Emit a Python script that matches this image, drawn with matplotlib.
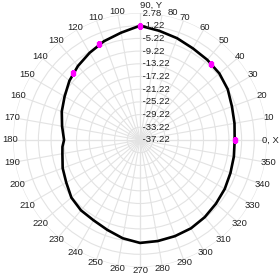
import numpy as np
import matplotlib
matplotlib.use("Agg")
import matplotlib.pyplot as plt

plt.rcParams["font.family"] = ["Liberation Sans", "DejaVu Sans"]

# Pattern (degrees, dB)
angles_deg = [0, 10, 20, 30, 40, 50, 60, 70, 80, 90, 100, 110, 120, 130, 140,
              150, 160, 170, 175, 180, 185, 190, 200, 210, 220, 230, 240, 250,
              260, 270, 280, 290, 300, 310, 320, 330, 340, 350, 360]
gain_db = [-7.4, -7.0, -6.4, -5.3, -4.6, -4.25, -3.9, -3.1, -2.3, -1.22, -2.9,
           -4.1, -5.5, -6.8, -8.2, -9.8, -11.0, -12.3, -12.9, -13.3, -12.7,
           -12.4, -11.3, -10.4, -9.0, -8.3, -8.0, -7.1, -5.8, -4.8, -4.9, -5.0,
           -5.1, -5.5, -6.0, -6.4, -6.9, -7.2, -7.4]

# Highlighted points (magenta)
marker_deg = [0, 47, 90, 113, 135]
marker_db = [-7.4, -4.4, -1.22, -4.5, -7.45]

ring_db = [2.78, -1.22, -5.22, -9.22, -13.22, -17.22, -21.22, -25.22,
           -29.22, -33.22, -37.22]
ring_labels = ["2.78", "-1.22", "-5.22", "-9.22", "-13.22", "-17.22",
               "-21.22", "-25.22", "-29.22", "-33.22", "-37.22"]
angle_ticks = list(range(0, 360, 10))

r_min, r_max = -37.22, 2.78
fs = 6.8

fig = plt.figure(figsize=(2.8, 2.8), dpi=100)
ax = fig.add_axes([13 / 280, 13 / 280, 254 / 280, 254 / 280], projection="polar")
ax.set_ylim(r_min, r_max)
ax.set_xticks(np.deg2rad(angle_ticks))
ax.set_xticklabels([])
ax.set_yticks(ring_db)
ax.set_yticklabels([])
ax.grid(True, color="#e3e3e3", linewidth=0.8)
ax.spines["polar"].set_visible(False)
ax.set_facecolor("white")

# darker main axes
for a in (0, 90, 180, 270):
    ax.plot([np.deg2rad(a)] * 2, [r_min, r_max], color="#cccccc", linewidth=0.8, zorder=1)

ax.plot(np.deg2rad(angles_deg), gain_db, color="black", linewidth=1.9, zorder=3)
ax.plot(np.deg2rad(marker_deg), marker_db, linestyle="none", marker="s",
        markersize=3.5, markerfacecolor="magenta", markeredgecolor="magenta", zorder=4)

# radial labels along the 90 degree line
for val, lbl in zip(ring_db, ring_labels):
    ax.text(np.pi / 2, val, " " + lbl, ha="left", va="center", fontsize=fs,
            color="#222222", zorder=5)

# angle labels
r_lab = r_max + 0.95
for a in angle_ticks:
    if a == 0:
        lbl = "0, X"
    elif a == 90:
        lbl = "90, Y"
    else:
        lbl = str(a)
    if a == 90:
        ax.text(np.deg2rad(a), r_max + 2.5, lbl, ha="left", va="center",
                fontsize=fs, color="#222222", clip_on=False)
    elif a == 80:
        # nudged right so it does not sit on top of "90, Y"
        ax.text(np.deg2rad(75.5), r_lab + 0.6, lbl, ha="center", va="center",
                fontsize=fs, color="#222222", clip_on=False)
    else:
        ax.text(np.deg2rad(a), r_lab, lbl, ha="center", va="center",
                fontsize=fs, color="#222222", clip_on=False)

fig.savefig("out.png", dpi=100, facecolor="white")
